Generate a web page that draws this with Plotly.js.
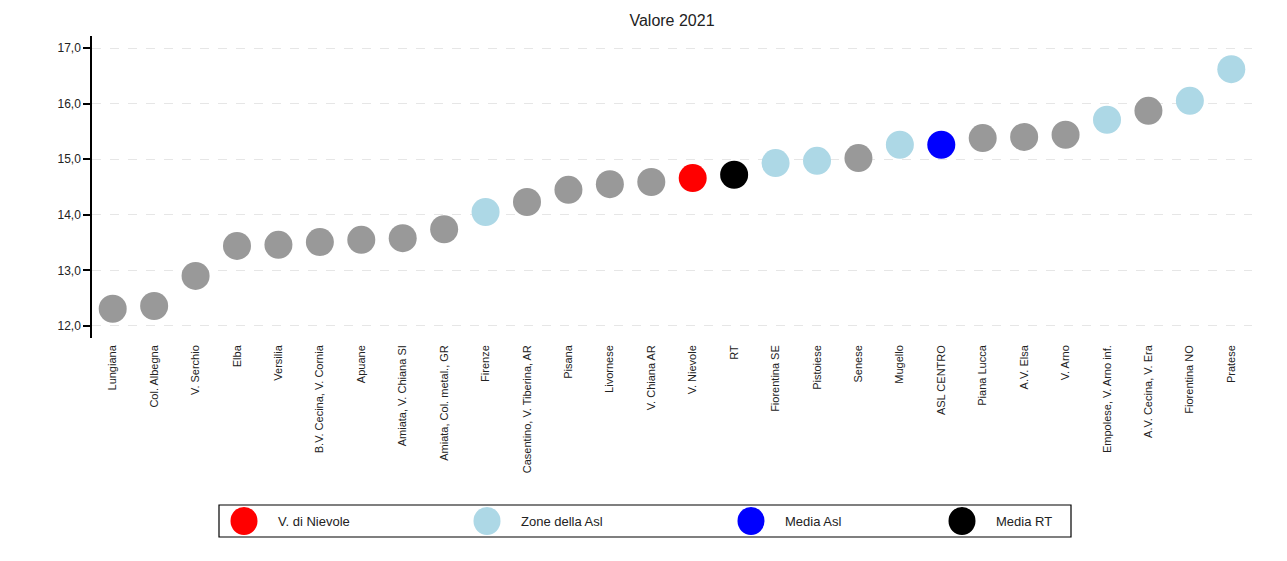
<!DOCTYPE html>
<html>
<head>
<meta charset="utf-8">
<script src="https://cdn.plot.ly/plotly-3.0.1.min.js"></script>
<style>html,body{margin:0;padding:0;background:#fff;}#chart{width:1287px;height:561px;}</style>
</head>
<body>
<div id="chart"></div>
<script>
// ---- data ----
var categories = ["Lungiana","Col. Albegna","V. Serchio","Elba","Versilia","B.V. Cecina, V. Cornia","Apuane","Amiata, V. Chiana SI","Amiata, Col. metal., GR","Firenze","Casentino, V. Tiberina, AR","Pisana","Livornese","V. Chiana AR","V. Nievole","RT","Fiorentina SE","Pistoiese","Senese","Mugello","ASL CENTRO","Piana Lucca","A.V. Elsa","V. Arno","Empolese, V. Arno inf.","A.V. Cecina, V. Era","Fiorentina NO","Pratese"];
var values = [12.31,12.36,12.90,13.44,13.46,13.51,13.55,13.58,13.74,14.05,14.23,14.45,14.55,14.59,14.66,14.72,14.93,14.97,15.02,15.26,15.26,15.38,15.40,15.44,15.71,15.87,16.05,16.62];
var groups = ["other","other","other","other","other","other","other","other","other","asl","other","other","other","other","nievole","rt","asl","asl","other","asl","mediaAsl","other","other","other","asl","other","asl","asl"];
var legendKeys = ["nievole","asl","mediaAsl","rt"];
var legendLabels = ["V. di Nievole","Zone della Asl","Media Asl","Media RT"];
var yTicks = [12,13,14,15,16,17];

// ---- styles ----
var colorMap = {other:"#999999", asl:"#ADD8E6", nievole:"#FF0000", mediaAsl:"#0000FF", rt:"#000000"};
var W = 1287, H = 561;
var legendPx = [244, 487, 751, 962]; // marker centres (px)
var legendBox = {x0:219, x1:1071, y0:505, y1:537};

var xIdx = categories.map(function(_, i){ return i; });

var trace = {
  type: "scatter",
  mode: "markers",
  x: xIdx,
  y: values,
  text: categories,
  hoverinfo: "text+y",
  marker: {size: 28, color: groups.map(function(g){ return colorMap[g]; }), line: {width: 0}},
  showlegend: false
};

var shapes = [{
  type: "rect", xref: "paper", yref: "paper",
  x0: legendBox.x0 / W, x1: legendBox.x1 / W,
  y0: 1 - legendBox.y1 / H, y1: 1 - legendBox.y0 / H,
  line: {color: "#000", width: 1.2}, fillcolor: "rgba(0,0,0,0)"
}];
var annotations = [];
var legY = 1 - ((legendBox.y0 + legendBox.y1) / 2) / H;
legendKeys.forEach(function(k, i){
  shapes.push({
    type: "circle", xref: "paper", yref: "paper",
    xsizemode: "pixel", ysizemode: "pixel",
    xanchor: legendPx[i] / W, yanchor: legY,
    x0: -13.5, x1: 13.5, y0: -14, y1: 14,
    fillcolor: colorMap[k], line: {width: 0}
  });
  annotations.push({
    xref: "paper", yref: "paper",
    x: (legendPx[i] + 32) / W, y: legY,
    xanchor: "left", yanchor: "middle",
    text: legendLabels[i], showarrow: false,
    font: {family: "Liberation Sans, Arial, sans-serif", size: 13, color: "#222"}
  });
});

var layout = {
  width: W, height: H,
  margin: {l: 0, r: 0, t: 0, b: 0},
  paper_bgcolor: "#fff", plot_bgcolor: "#fff",
  font: {family: "Liberation Sans, Arial, sans-serif", color: "#222"},
  title: {text: "Valore 2021", x: 672 / W, xanchor: "center", y: 1 - 20 / H, yanchor: "middle",
          font: {family: "Liberation Sans, Arial, sans-serif", size: 16, color: "#222"}},
  xaxis: {
    domain: [92 / W, 1252 / W],
    range: [-0.5, 27.5],
    tickmode: "array", tickvals: xIdx, ticktext: categories,
    tickangle: -90, tickfont: {size: 11, color: "#222"},
    showgrid: false, zeroline: false, showline: false, ticks: "",
    ticklabelstandoff: 4
  },
  yaxis: {
    domain: [1 - 338 / H, 1 - 36 / H],
    range: [11.784, 17.216],
    tickmode: "array", tickvals: yTicks,
    tickformat: ".1f",
    tickfont: {size: 12, color: "#222"},
    showline: true, linecolor: "#000", linewidth: 1.5,
    ticks: "outside", ticklen: 7, tickwidth: 1.5, tickcolor: "#000",
    showgrid: true, gridcolor: "#e6e6e6", griddash: "dash", gridwidth: 1,
    zeroline: false
  },
  separators: ",.",
  shapes: shapes,
  annotations: annotations,
  showlegend: false
};

Plotly.newPlot("chart", [trace], layout, {displayModeBar: false, responsive: false});
</script>
</body>
</html>
